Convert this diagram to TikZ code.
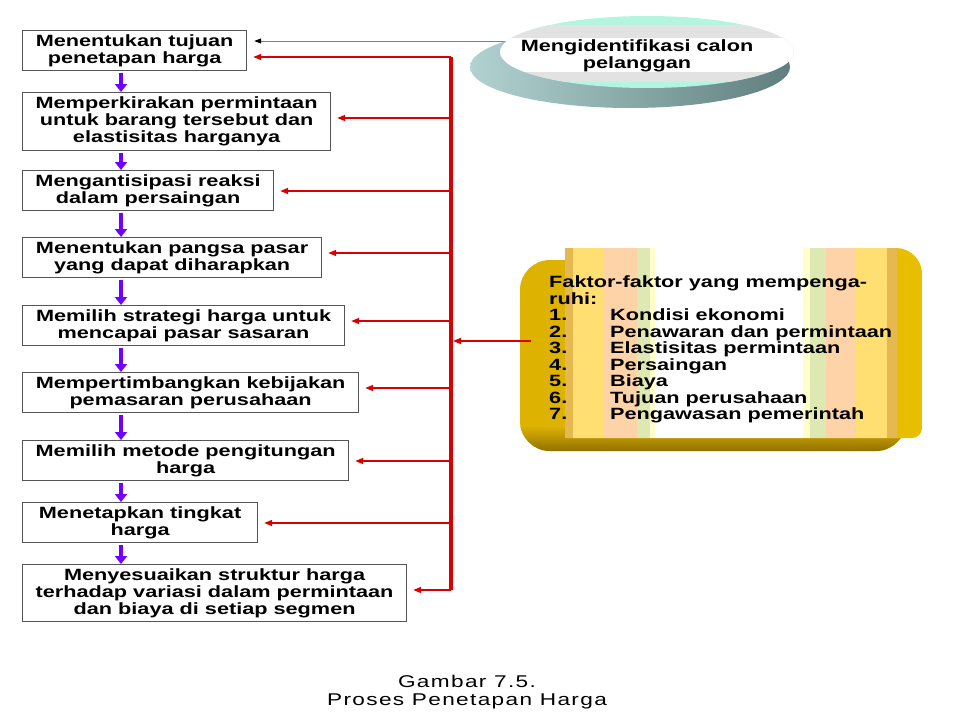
\documentclass[tikz,border=0pt]{standalone}
\usepackage{fontspec}
\newfontfamily\boldwide[FakeStretch=1.33]{Liberation Sans}
\newfontfamily\capwide[FakeStretch=1.33,LetterSpace=8]{Liberation Sans}
\usetikzlibrary{arrows.meta}

\definecolor{flowviolet}{HTML}{7000FF}
\definecolor{feedred}{HTML}{D80000}
\definecolor{boxgray}{HTML}{555555}
\definecolor{tealL}{HTML}{B2D2D2}
\definecolor{tealD}{HTML}{607E7E}
\definecolor{mint}{HTML}{B3F5DF}
\definecolor{bandgray}{HTML}{E2E2E2}
\definecolor{goldside}{HTML}{DDB200}
\definecolor{golddark}{HTML}{8E6F00}
\definecolor{stripegold}{HTML}{E8BE00}
\definecolor{stripetan}{HTML}{E6B850}
\definecolor{stripeyellow}{HTML}{FFDF72}
\definecolor{stripepeach}{HTML}{FFD3A8}
\definecolor{stripegreen}{HTML}{DDE8B2}
\definecolor{stripepale}{HTML}{FFFFCC}

\begin{document}
\begin{tikzpicture}[x=1pt,y=-1pt,
    stepbox/.style={draw=boxgray, line width=1.2pt, fill=white, align=center,
      inner sep=0pt, anchor=north west, minimum height=40pt},
    flow/.style={flowviolet, line width=3.8pt, -{Triangle[length=8pt,width=12pt]}, shorten <=2pt},
    bus/.style={feedred, line width=3.5pt},
    feed/.style={feedred, line width=1.5pt, -{Triangle[length=8pt,width=6pt]}, shorten >=6pt},
    font=\boldwide\bfseries\fontsize{16.3}{16.8}\selectfont]
  \useasboundingbox (0,0) rectangle (966,720);

  % steps of the process
  \node[stepbox, minimum width=224pt] (b1) at (22,30) {Menentukan tujuan\\penetapan harga};
  \node[stepbox, minimum width=308pt, minimum height=58pt] (b2) at (22,92) {Memperkirakan permintaan\\untuk barang tersebut dan\\elastisitas harganya};
  \node[stepbox, minimum width=251pt] (b3) at (22,170) {Mengantisipasi reaksi\\dalam persaingan};
  \node[stepbox, minimum width=299pt] (b4) at (22,237) {Menentukan pangsa pasar\\yang dapat diharapkan};
  \node[stepbox, minimum width=322pt] (b5) at (22,305) {Memilih strategi harga untuk\\mencapai pasar sasaran};
  \node[stepbox, minimum width=336pt] (b6) at (22,372) {Mempertimbangkan kebijakan\\pemasaran perusahaan};
  \node[stepbox, minimum width=326pt] (b7) at (22,440) {Memilih metode pengitungan\\harga};
  \node[stepbox, minimum width=235pt] (b8) at (22,502) {Menetapkan tingkat\\harga};
  \node[stepbox, minimum width=384pt, minimum height=57pt] (b9) at (22,564) {Menyesuaikan struktur harga\\terhadap variasi dalam permintaan\\dan biaya di setiap segmen};

  % violet arrows between the steps
  \coordinate (ax) at (121,0);
  \foreach \a/\b in {b1/b2,b2/b3,b3/b4,b4/b5,b5/b6,b6/b7,b7/b8,b8/b9}
    \draw[flow] (\a.south -| ax) -- (\b.north -| ax);

  % red feedback bus
  \coordinate (jtop) at (451,57);
  \coordinate (jbot) at (451,590);
  \draw[bus] (jtop) -- (jbot);
  \foreach \b/\yy in {b1/57,b2/118,b3/191,b4/253,b5/321,b6/388,b7/461,b8/523,b9/590} {
    \coordinate (j\b) at (451,\yy);
    \draw[feed] (j\b) -- (j\b -| \b.east);
  }

  % customer ellipse
  \coordinate (csrc) at (520,41);
  \draw[gray, line width=1pt, -{Triangle[length=7pt,width=5pt,black]}, shorten >=7pt] (csrc) -- (csrc -| b1.east);
  \shade[left color=tealL, right color=tealD] (630,67) ellipse [x radius=160, y radius=41];
  \begin{scope}
    \clip (647,52) ellipse [x radius=147, y radius=36];
    \fill[mint] (490,10) rectangle (800,95);
    \fill[bandgray] (490,25) rectangle (800,82);
    \fill[white] (490,38) rectangle (800,72);
  \end{scope}
  \node[align=center, inner sep=0pt] (calon) at (637,56) {Mengidentifikasi calon\\pelanggan};

  % factor box
  \begin{scope}
    \clip[rounded corners=30pt] (520,260) rectangle (906,451);
    \fill[goldside] (510,250) rectangle (915,460);
    \shade[top color=goldside, bottom color=golddark] (510,426) rectangle (915,452);
  \end{scope}
  \begin{scope}
    \clip (565,248) [rounded corners=26pt] -- (922,248) [rounded corners=10pt] -- (922,438) [sharp corners] -- (565,438) -- cycle;
    \foreach \xa/\xb/\c in {565/573/stripetan, 573/603/stripeyellow, 603/637/stripepeach,
        637/650/stripegreen, 650/655/stripepale, 655/803/white, 803/810/stripepale,
        810/826/stripegreen, 826/855/stripepeach, 855/887/stripeyellow, 887/897/stripetan,
        897/923/stripegold}
      \fill[\c] (\xa,240) rectangle (\xb,445);
  \end{scope}
  \node[anchor=north west, align=left, inner sep=0pt, font=\boldwide\bfseries\fontsize{16.3}{16.5}\selectfont] (faktor) at (549,275.5)
    {Faktor-faktor yang mempenga-\\ruhi:\\
     \makebox[61pt][l]{1.}Kondisi ekonomi\\
     \makebox[61pt][l]{2.}Penawaran dan permintaan\\
     \makebox[61pt][l]{3.}Elastisitas permintaan\\
     \makebox[61pt][l]{4.}Persaingan\\
     \makebox[61pt][l]{5.}Biaya\\
     \makebox[61pt][l]{6.}Tujuan perusahaan\\
     \makebox[61pt][l]{7.}Pengawasan pemerintah};
  \coordinate (fsrc) at (531,341);
  \coordinate (jf) at (451,341);
  \draw[feed, shorten >=2pt] (fsrc) -- (jf);

  % caption
  \node[align=center, inner sep=0pt, font=\capwide\fontsize{17}{17.4}\selectfont] (caption) at (467,692)
    {Gambar 7.5.\\Proses Penetapan Harga};
\end{tikzpicture}
\end{document}
